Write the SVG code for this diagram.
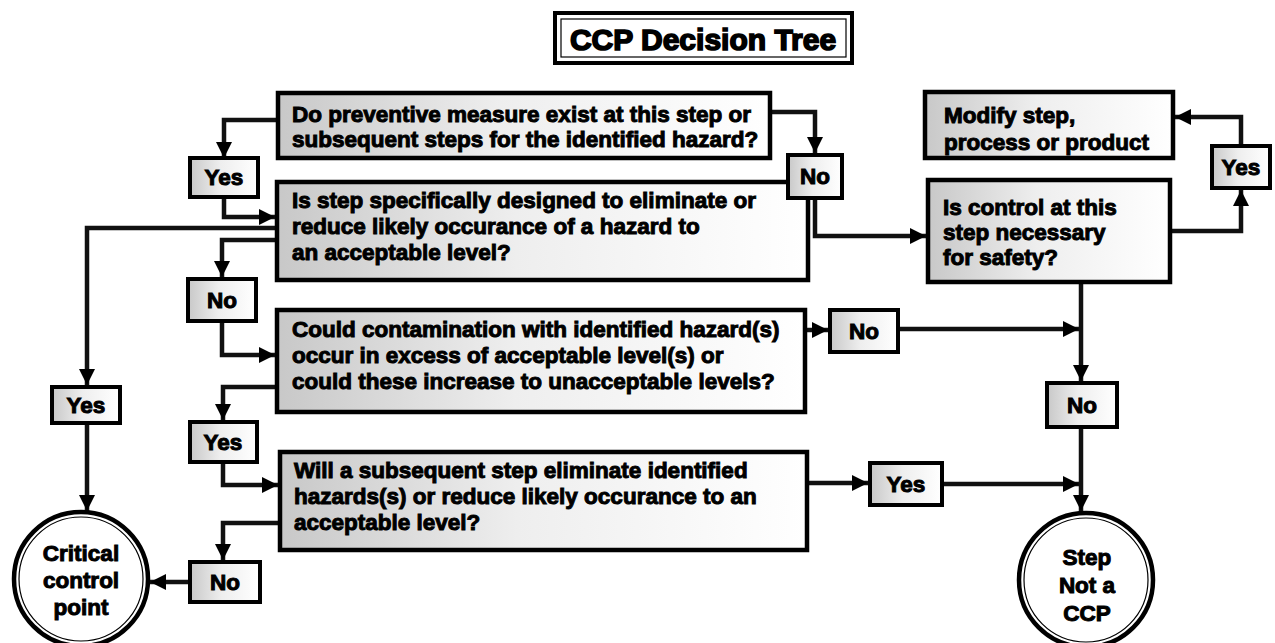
<svg xmlns="http://www.w3.org/2000/svg" width="1275" height="643" viewBox="0 0 1275 643">
<defs>
<linearGradient id="gfill" x1="0" y1="0" x2="1" y2="0">
<stop offset="0" stop-color="#c8c8c8"/>
<stop offset="0.45" stop-color="#eeeeee"/>
<stop offset="1" stop-color="#ffffff"/>
</linearGradient>
<marker id="arr" markerUnits="userSpaceOnUse" markerWidth="18" markerHeight="18" refX="16" refY="8" orient="auto">
<path d="M0,0 L16,8 L0,16 z" fill="#000"/>
</marker>
</defs>
<style>
.box{fill:url(#gfill);stroke:#000;stroke-width:4.5}
.lb{fill:url(#gfill);stroke:#000;stroke-width:4}
.circ{fill:#fff;stroke:#000;stroke-width:4.5}
.inner{fill:none;stroke:#000;stroke-width:1.2}
.t{font-family:"Liberation Sans",Arial,sans-serif;font-weight:bold;font-size:22.5px;fill:#000;stroke:#000;stroke-width:1}
.c{text-anchor:middle}
.title{font-size:30px;stroke-width:1.6}
.conn path{fill:none;stroke:#111;stroke-width:4.5;marker-end:url(#arr)}
</style>
<rect width="1275" height="643" fill="#fff"/>

<g id="title">
<rect x="555" y="13" width="297" height="50" fill="#fff" stroke="#000" stroke-width="4"/>
<rect x="561" y="19" width="285" height="38" class="inner"/>
<text x="703" y="50" class="t c title">CCP Decision Tree</text>
</g>

<g class="conn" id="connectors">
<path d="M278,120 H224 V158"/>
<path d="M224,197 V217 H275"/>
<path d="M277,228 H87 V385"/>
<path d="M87,423 V511"/>
<path d="M277,240 H222 V277"/>
<path d="M222,321 V355 H275"/>
<path d="M277,387 H223 V420"/>
<path d="M223,462 V485 H278"/>
<path d="M280,523 H223 V560"/>
<path d="M190,582 H150"/>
<path d="M770,112 H815 V153"/>
<path d="M815,198 V236 H926"/>
<path d="M1170,231 H1241 V190"/>
<path d="M1241,146 V117 H1175"/>
<path d="M1081,282 V381"/>
<path d="M805,330 H828"/>
<path d="M898,329 H1079"/>
<path d="M1081,427 V511"/>
<path d="M807,483 H868"/>
<path d="M942,484 H1079"/>
</g>

<g id="q1">
<rect x="278" y="93" width="492" height="65" class="box"/>
<text class="t" x="292" y="122">Do preventive measure exist at this step or</text>
<text class="t" x="292" y="147">subsequent steps for the identified hazard?</text>
</g>

<g id="q2">
<rect x="277" y="182" width="531" height="98" class="box"/>
<text class="t" x="292" y="208">Is step specifically designed to eliminate or</text>
<text class="t" x="292" y="234">reduce likely occurance of a hazard to</text>
<text class="t" x="292" y="260">an acceptable level?</text>
</g>

<g id="q3">
<rect x="277" y="310" width="528" height="102" class="box"/>
<text class="t" x="292" y="337">Could contamination with identified hazard(s)</text>
<text class="t" x="292" y="363">occur in excess of acceptable level(s) or</text>
<text class="t" x="292" y="389">could these increase to unacceptable levels?</text>
</g>

<g id="q4">
<rect x="280" y="452" width="527" height="98" class="box"/>
<text class="t" x="294" y="478">Will a subsequent step eliminate identified</text>
<text class="t" x="294" y="504">hazards(s) or reduce likely occurance to an</text>
<text class="t" x="294" y="530">acceptable level?</text>
</g>

<g id="modify">
<rect x="925" y="92" width="248" height="66" class="box"/>
<text class="t" x="944" y="123">Modify step,</text>
<text class="t" x="944" y="150">process or product</text>
</g>

<g id="control">
<rect x="928" y="180" width="242" height="102" class="box"/>
<text class="t" x="943" y="215">Is control at this</text>
<text class="t" x="943" y="240">step necessary</text>
<text class="t" x="943" y="265">for safety?</text>
</g>

<g id="yes1">
<rect x="190" y="158" width="68" height="39" class="lb"/>
<text class="t c" x="224" y="185">Yes</text>
</g>
<g id="no1">
<rect x="188" y="279" width="68" height="42" class="lb"/>
<text class="t c" x="222" y="308">No</text>
</g>
<g id="yes2">
<rect x="190" y="422" width="67" height="40" class="lb"/>
<text class="t c" x="223" y="450">Yes</text>
</g>
<g id="no2">
<rect x="190" y="562" width="70" height="40" class="lb"/>
<text class="t c" x="225" y="590">No</text>
</g>
<g id="yesLeft">
<rect x="52" y="387" width="68" height="36" class="lb"/>
<text class="t c" x="86" y="413">Yes</text>
</g>
<g id="noTop">
<rect x="788" y="155" width="54" height="43" class="lb"/>
<text class="t c" x="815" y="184">No</text>
</g>
<g id="yesRight">
<rect x="1212" y="146" width="58" height="42" class="lb"/>
<text class="t c" x="1241" y="175">Yes</text>
</g>
<g id="noC">
<rect x="830" y="310" width="68" height="42" class="lb"/>
<text class="t c" x="864" y="339">No</text>
</g>
<g id="noR">
<rect x="1047" y="383" width="70" height="44" class="lb"/>
<text class="t c" x="1082" y="413">No</text>
</g>
<g id="yesC">
<rect x="870" y="463" width="72" height="42" class="lb"/>
<text class="t c" x="906" y="492">Yes</text>
</g>

<g id="ccp">
<circle cx="81" cy="579" r="67" class="circ"/>
<circle cx="81" cy="579" r="62" class="inner"/>
<text class="t c" x="81" y="561">Critical</text>
<text class="t c" x="81" y="588">control</text>
<text class="t c" x="81" y="615">point</text>
</g>

<g id="notccp">
<circle cx="1086" cy="580" r="67" class="circ"/>
<circle cx="1086" cy="580" r="62" class="inner"/>
<text class="t c" x="1087" y="565">Step</text>
<text class="t c" x="1087" y="593">Not a</text>
<text class="t c" x="1087" y="621">CCP</text>
</g>
</svg>
